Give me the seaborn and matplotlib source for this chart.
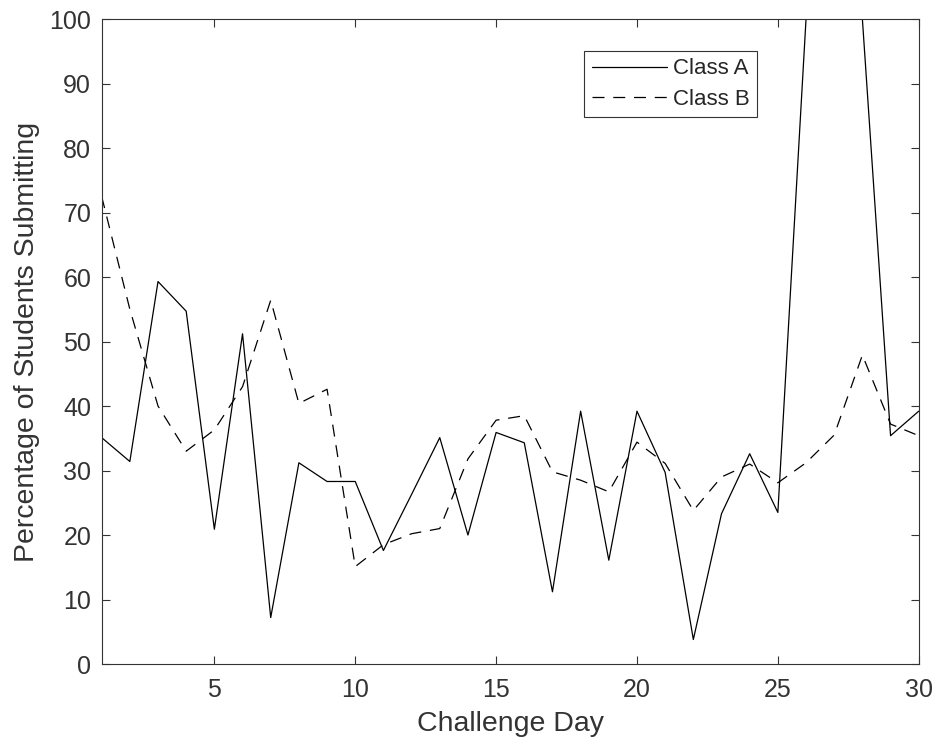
import numpy as np
import pandas as pd
import matplotlib
matplotlib.use("Agg")
import matplotlib.pyplot as plt
import seaborn as sns

days = list(range(1, 31))
class_a = [35.1, 31.4, 59.3, 54.7, 20.9, 51.2, 7.2, 31.2, 28.3, 28.3,
           17.6, 26.3, 35.1, 20.0, 35.9, 34.3, 11.2, 39.2, 16.1, 39.2,
           29.7, 3.8, 23.3, 32.6, 23.5, 100, 100, 100, 35.4, 39.2]
class_b = [72.5, 55.0, 40.0, 33.0, 36.3, 43.0, 56.4, 40.4, 42.6, 15.1,
           18.5, 20.2, 21.0, 31.8, 37.8, 38.5, 29.8, 28.5, 26.7, 34.4,
           31.1, 23.8, 29.0, 31.0, 28.1, 31.2, 35.5, 47.9, 37.2, 35.4]
series_names = ["Class A", "Class B"]
x_ticks = [5, 10, 15, 20, 25, 30]
y_ticks = [0, 10, 20, 30, 40, 50, 60, 70, 80, 90, 100]

df = pd.DataFrame({
    "day": days * 2,
    "value": class_a + class_b,
    "series": [series_names[0]] * 30 + [series_names[1]] * 30,
})

sns.set_style("white")
plt.rcParams["font.family"] = ["Liberation Sans", "DejaVu Sans"]

fig = plt.figure(figsize=(9.37, 7.52), dpi=100)
ax = fig.add_axes([0.1085, 0.117, 0.872, 0.8577])

lw = 0.9
sns.lineplot(data=df, x="day", y="value", style="series",
             dashes={"Class A": "", "Class B": (9.6, 7.0)},
             color="black", linewidth=lw, ax=ax, legend=True)

ax.set_xlim(1, 30)
ax.set_ylim(0, 100)
ax.set_xticks(x_ticks)
ax.set_yticks(y_ticks)
ax.tick_params(direction="in", length=6, width=0.8, colors="#333333",
               labelsize=18, top=True, right=True, bottom=True, left=True)
ax.tick_params(axis="x", pad=10)
ax.tick_params(axis="y", pad=7.5)
for s in ax.spines.values():
    s.set_color("#333333")
    s.set_linewidth(0.8)
ax.set_xlabel("Challenge Day", fontsize=20.5, color="#333333", labelpad=6.5)
ax.set_ylabel("Percentage of Students Submitting", fontsize=20.5,
              color="#333333", labelpad=7)

handles, labels = ax.get_legend_handles_labels()
leg = ax.legend(handles, labels, loc="upper right",
                bbox_to_anchor=(0.802, 0.9505), borderaxespad=0,
                fancybox=False, edgecolor="#333333", framealpha=1,
                fontsize=16, handlelength=3.38, handletextpad=0.28,
                borderpad=0.33, labelspacing=0.43)
leg.get_frame().set_linewidth(0.8)

fig.savefig("out.png", dpi=100)
